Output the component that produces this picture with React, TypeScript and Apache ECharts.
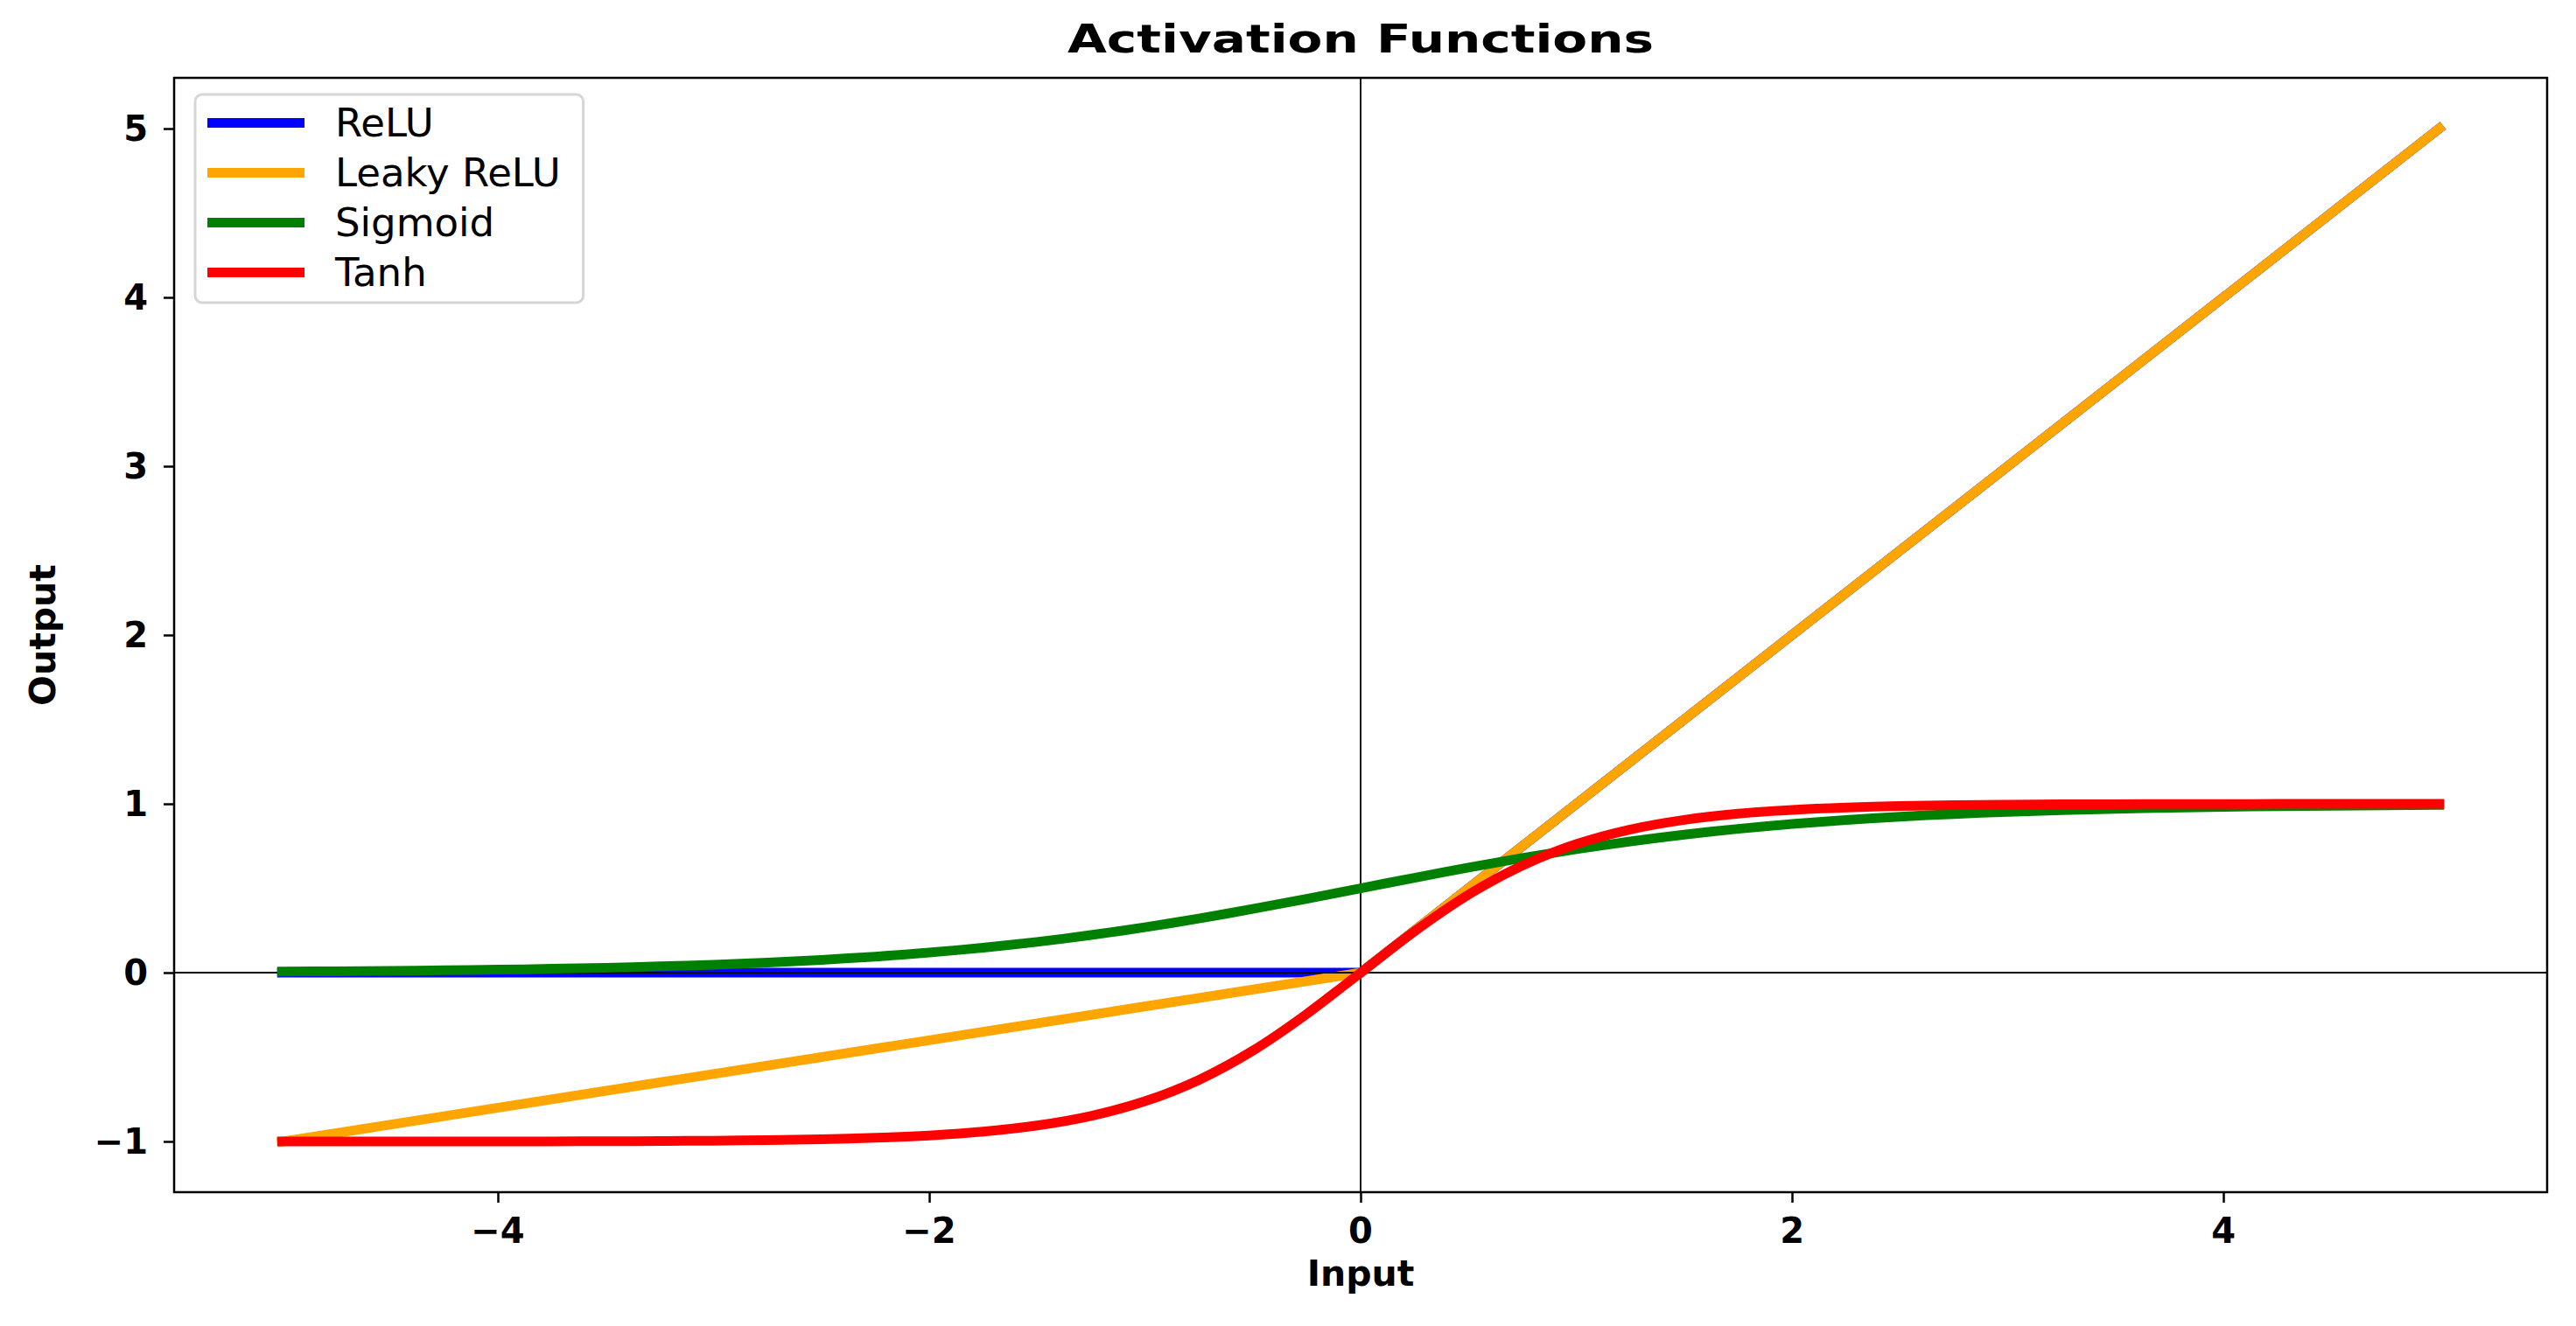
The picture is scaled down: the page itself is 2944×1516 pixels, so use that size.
import React, { useEffect, useRef } from "react";
import * as echarts from "echarts";

const seriesNames = ["ReLU", "Leaky ReLU", "Sigmoid", "Tanh"];
const seriesColors = ["#0000ff", "#ffa500", "#008000", "#ff0000"];

const reluX = [-5, 0, 5];
const reluY = [0, 0, 5];
const leakyX = [-5, 0, 5];
const leakyY = [-1, 0, 5];

const curveX = [
  -5, -4.75, -4.5, -4.25, -4, -3.75, -3.5, -3.25, -3, -2.75, -2.5, -2.25, -2, -1.75, -1.5, -1.25, -1, -0.75, -0.5, -0.25,
  0, 0.25, 0.5, 0.75, 1, 1.25, 1.5, 1.75, 2, 2.25, 2.5, 2.75, 3, 3.25, 3.5, 3.75, 4, 4.25, 4.5, 4.75, 5,
];
const sigmoidY = [
  0.0067, 0.0086, 0.011, 0.014, 0.018, 0.023, 0.0293, 0.0373, 0.0474, 0.0601, 0.0759, 0.0954, 0.1192, 0.148, 0.1824,
  0.2227, 0.2689, 0.3208, 0.3775, 0.4378, 0.5, 0.5622, 0.6225, 0.6792, 0.7311, 0.7773, 0.8176, 0.852, 0.8808, 0.9046,
  0.9241, 0.9399, 0.9526, 0.9627, 0.9707, 0.977, 0.982, 0.986, 0.989, 0.9914, 0.9933,
];
const tanhY = [
  -0.9999, -0.9999, -0.9998, -0.9996, -0.9993, -0.9989, -0.9982, -0.997, -0.9951, -0.9919, -0.9866, -0.978, -0.964,
  -0.9414, -0.9051, -0.8483, -0.7616, -0.6351, -0.4621, -0.2449, 0, 0.2449, 0.4621, 0.6351, 0.7616, 0.8483, 0.9051,
  0.9414, 0.964, 0.978, 0.9866, 0.9919, 0.9951, 0.997, 0.9982, 0.9989, 0.9993, 0.9996, 0.9998, 0.9999, 0.9999,
];

const xTicks = [-4, -2, 0, 2, 4];
const yTicks = [-1, 0, 1, 2, 3, 4, 5];

const titleText = "Activation Functions";
const xLabel = "Input";
const yLabel = "Output";

const pair = (xs: number[], ys: number[]) => xs.map((x, i) => [x, ys[i]]);
const fmt = (v: number) => (v < 0 ? "\u2212" + Math.abs(v) : String(v));

export default function App() {
  const ref = useRef<HTMLDivElement>(null);
  useEffect(() => {
    if (!ref.current) return;
    const chart = echarts.init(ref.current, null, { renderer: "svg" });
    const font = "DejaVu Sans";
    const lineSeries = [
      pair(reluX, reluY),
      pair(leakyX, leakyY),
      pair(curveX, sigmoidY),
      pair(curveX, tanhY),
    ].map((d, i) => ({
      name: seriesNames[i],
      type: "line",
      data: d,
      smooth: i >= 2 ? 0.3 : false,
      showSymbol: false,
      symbol: "none",
      z: 3 + i,
      color: seriesColors[i],
      lineStyle: { color: seriesColors[i], width: 11, cap: "square", join: "round" },
    }));
    chart.setOption({
      animation: false,
      backgroundColor: "#ffffff",
      graphic: [
        {
          type: "text",
          x: 1555,
          y: 22,
          scaleX: 1.29,
          originX: 0,
          style: {
            text: titleText,
            font: `bold 45px "${font}"`,
            fill: "#000",
            textAlign: "center",
            textVerticalAlign: "top",
          },
        },
      ],
      grid: {
        left: 199,
        right: 33,
        top: 89,
        bottom: 153,
        show: true,
        borderColor: "#000",
        borderWidth: 2.5,
        backgroundColor: "transparent",
      },
      legend: {
        data: seriesNames,
        orient: "vertical",
        left: 223,
        top: 108,
        icon: "rect",
        itemWidth: 111,
        itemHeight: 11,
        itemGap: 12,
        padding: [10, 26, 12, 14],
        backgroundColor: "#ffffff",
        borderColor: "#d6d6d6",
        borderWidth: 3,
        borderRadius: 8,
        textStyle: {
          fontFamily: font,
          fontSize: 45,
          lineHeight: 44,
          color: "#000",
          padding: [0, 0, 0, 30],
        },
      },
      xAxis: {
        type: "value",
        min: -5.5,
        max: 5.5,
        name: xLabel,
        nameLocation: "middle",
        nameGap: 72,
        nameTextStyle: { fontFamily: font, fontSize: 41, fontWeight: "bold", color: "#000" },
        axisLine: { show: false, onZero: false },
        axisTick: { show: true, length: 12, customValues: xTicks, lineStyle: { color: "#000", width: 2.5 } },
        axisLabel: {
          customValues: xTicks,
          formatter: fmt,
          margin: 24,
          fontFamily: font,
          fontSize: 40,
          fontWeight: "bold",
          color: "#000",
        },
        splitLine: { show: false },
      },
      yAxis: {
        type: "value",
        min: -1.3,
        max: 5.3,
        name: yLabel,
        nameLocation: "middle",
        nameGap: 130,
        nameRotate: 90,
        nameTextStyle: { fontFamily: font, fontSize: 41, fontWeight: "bold", color: "#000" },
        axisLine: { show: false, onZero: false },
        axisTick: { show: true, length: 12, customValues: yTicks, lineStyle: { color: "#000", width: 2.5 } },
        axisLabel: {
          customValues: yTicks,
          formatter: fmt,
          margin: 30,
          fontFamily: font,
          fontSize: 40,
          fontWeight: "bold",
          color: "#000",
        },
        splitLine: { show: false },
      },
      series: [
        {
          name: "zero-lines",
          type: "line",
          data: [],
          z: 1,
          markLine: {
            silent: true,
            symbol: "none",
            label: { show: false },
            lineStyle: { color: "#000", width: 1.8, type: "solid" },
            data: [{ xAxis: 0 }, { yAxis: 0 }],
          },
        },
        ...lineSeries,
      ],
    });
    return () => chart.dispose();
  }, []);
  return (
    <div
      ref={ref}
      style={{ position: "fixed", left: 0, top: 0, width: 2944, height: 1516, background: "#fff" }}
    />
  );
}
